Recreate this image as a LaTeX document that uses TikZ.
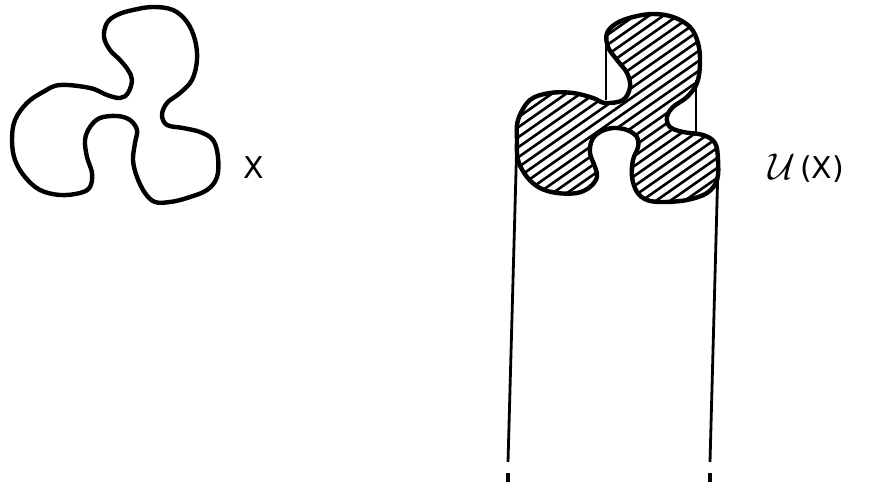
\documentclass[tikz,border=0pt]{standalone}
\usepackage{fontspec}
\setsansfont{DejaVu Sans}
\begin{document}
\begin{tikzpicture}[x=1pt,y=-1pt,
  outline/.style={line width=4.4pt,line join=round},
  vline/.style={line width=2.8pt},
  hatch/.style={line width=2.6pt},
  lbl/.style={font=\sffamily\fontsize{30}{30}\selectfont,inner sep=0pt}]
\useasboundingbox (0,0) rectangle (885,486);
% left shape X
\draw[outline] plot[smooth cycle,tension=0.6] coordinates{
(60,85)(90,88)(107,95)(120,98)(128,93)(132,80)(128,70)(120,60)(110,50)(104,37)(107,23)(117,15)(133,10)(153,7)(173,10)(187,22)(195,40)(197,60)(192,80)(180,93)(167,103)(162,115)(167,125)(183,128)(200,132)(213,140)(218,157)(217,177)(207,190)(187,198)(170,202)(155,202)(145,193)(137,177)(133,160)(135,143)(137,130)(130,120)(117,116)(100,118)(90,127)(85,140)(87,157)(92,173)(90,187)(80,193)(60,195)(40,190)(25,177)(15,160)(12,140)(15,120)(27,103)(43,92)};
\node[lbl] (X) at (254,168) {X};
% right shape U(X)
\def\rshape{plot[smooth cycle,tension=0.6] coordinates{
(518,120)(530,100)(550,93)(573,93)(593,98)(605,103)(623,100)(630,87)(627,73)(617,60)(608,47)(607,33)(617,23)(633,17)(653,14)(673,17)(690,27)(698,43)(700,63)(697,83)(687,97)(673,107)(667,117)(670,127)(683,132)(703,135)(715,143)(718,160)(717,180)(707,193)(687,200)(663,202)(647,200)(637,192)(632,177)(633,160)(638,147)(637,137)(627,130)(613,128)(600,132)(592,140)(590,153)(595,167)(597,177)(590,187)(577,193)(557,193)(540,188)(527,177)(518,160)(517,140)}}
\begin{scope}
\clip \rshape;
\foreach \c in {0,10,...,420} \draw[hatch] (500,\c) -- (740,\c-168);
\end{scope}
\draw[outline] \rshape;
% vertical lines
\draw[vline] (606,34) -- (606,100);
\draw[vline] (696,80) -- (696,134);
\draw[vline] (517,135) -- (508,462);
\draw[vline] (718,165) -- (710,462);
\draw[line width=3.2pt] (508,473) -- (508,482);
\draw[line width=3.2pt] (710,473) -- (710,482);
\node[lbl,anchor=west] (UX) at (768,168) {\raisebox{-1pt}{\scalebox{1.5}{$\mathcal{U}$}}\,(X)};
\end{tikzpicture}
\end{document}
